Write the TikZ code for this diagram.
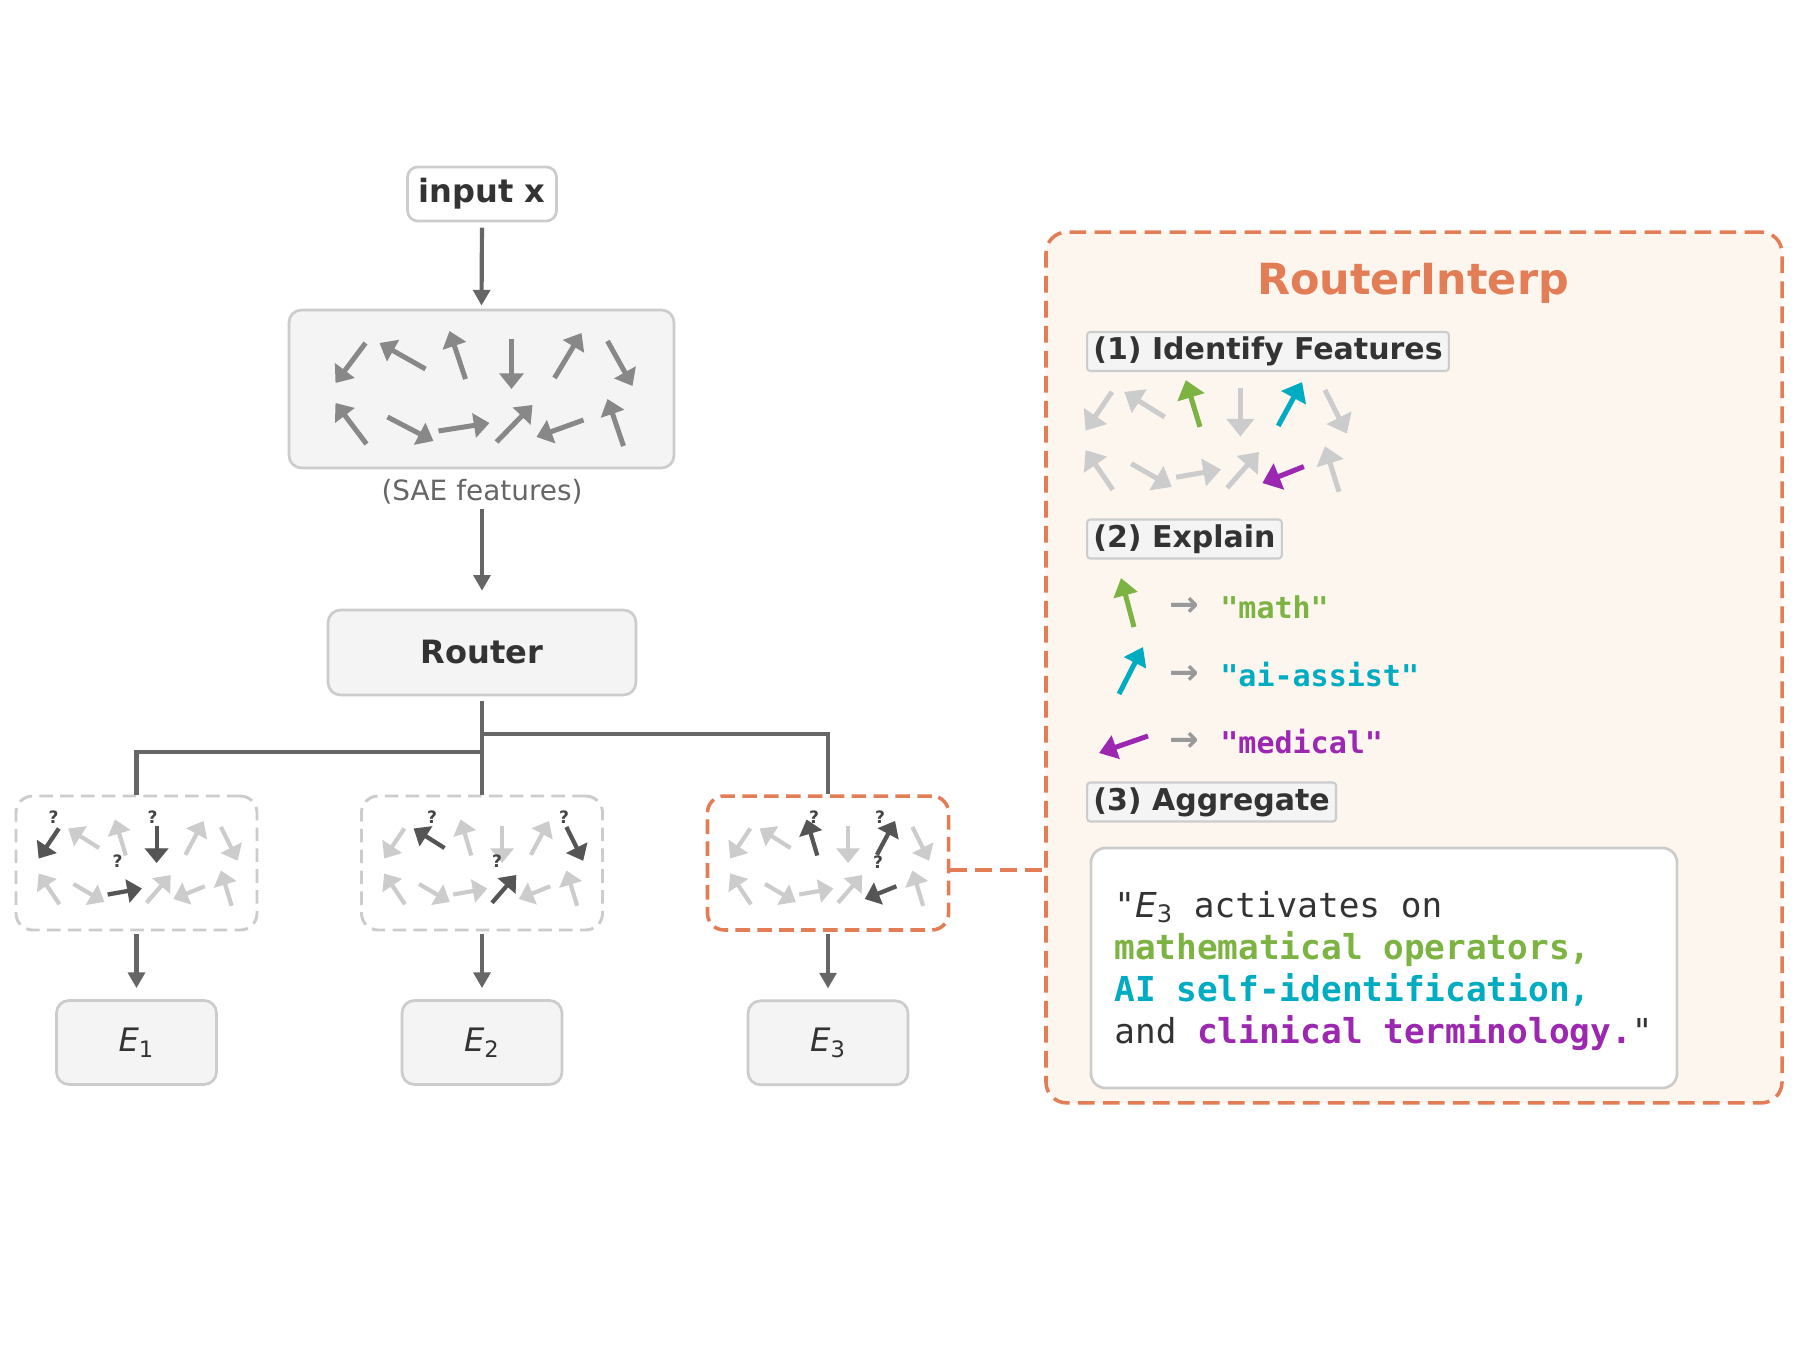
\documentclass[tikz,border=0pt]{standalone}
\usepackage{fontspec}
\setmainfont{DejaVu Sans}
\setmonofont{DejaVu Sans Mono}
\usepackage{tikz}
\usetikzlibrary{arrows.meta,positioning}
\usepackage{xcolor}

\definecolor{txtdark}{HTML}{333333}
\definecolor{linkgray}{HTML}{666666}
\definecolor{boxfill}{HTML}{F4F4F4}
\definecolor{boxline}{HTML}{CCCCCC}
\definecolor{featmid}{HTML}{888888}
\definecolor{featlight}{HTML}{CCCCCC}
\definecolor{featdark}{HTML}{555555}
\definecolor{explgray}{HTML}{999999}
\definecolor{interp}{HTML}{E27D56}
\definecolor{interpbg}{HTML}{FDF6EF}
\definecolor{mathgreen}{HTML}{7CB342}
\definecolor{aicyan}{HTML}{00ACC1}
\definecolor{medpurple}{HTML}{9C27B0}

\tikzset{
  graybox/.style={draw=boxline, fill=boxfill, line width=1.3pt, rounded corners=6pt, text=txtdark},
  inbox/.style={draw=boxline, fill=white, line width=1.3pt, rounded corners=5pt, text=txtdark,
    minimum width=71.5pt, minimum height=26pt, font=\bfseries\fontsize{15.4}{18}\selectfont},
  flow/.style={draw=linkgray, line width=2pt, -{Triangle[length=7.5pt,width=8pt]}},
  branch/.style={draw=linkgray, line width=2pt},
  expertbox/.style={draw=boxline, fill=white, line width=1.4pt, dash pattern=on 6.5pt off 3.5pt,
    rounded corners=8pt, minimum width=115.7pt, minimum height=64.3pt},
  expertlabel/.style={graybox, minimum width=76.8pt, minimum height=40.3pt, font=\fontsize{15.5}{18}\selectfont},
  saearrow/.style={draw=featmid, line width=2.4pt, -{Triangle[length=7.5pt,width=11.5pt]}},
  miniarrow/.style={line width=2pt, -{Triangle[length=7pt,width=11pt]}},
  panelarrow/.style={line width=2.4pt, -{Triangle[length=8.5pt,width=13pt]}},
  iconarrow/.style={line width=2.4pt, -{Triangle[length=8.5pt,width=11.5pt]}},
  qmark/.style={text=featdark!80!black, inner sep=0pt, font=\bfseries\fontsize{8.2}{9}\selectfont},
  stephead/.style={draw=boxline, fill=boxfill, line width=1pt, rounded corners=1.5pt, inner xsep=3pt,
    inner ysep=0pt, minimum height=18.7pt, anchor=west, text=txtdark, font=\bfseries\fontsize{14.4}{17}\selectfont},
  expl/.style={anchor=west, inner sep=0pt, font=\ttfamily\bfseries\fontsize{14.4}{17}\selectfont},
  explarrow/.style={text=explgray, inner sep=0pt, font=\bfseries\fontsize{17}{19}\selectfont},
  interpline/.style={draw=interp, line width=1.7pt, dash pattern=on 8pt off 4pt}
}

% one SAE feature layout, 12 arrows, tail -> head
\newcommand{\featpattern}[1]{%
  \foreach \k/\tx/\ty/\hx/\hy in {1/-116/-46/-146/-6, 2/-56/-20/-102/-46, 3/-16/-10/-32/-58,
      4/30/-50/30/0, 5/73/-11/100/-56, 6/126/-48/151/-3, 7/-115/55/-146/14, 8/-94/28/-48/52,
      9/-43/42/8/34, 10/15/53/51/16, 11/102/31/55/48, 12/142/57/126/10}{
    \coordinate (t\k) at (\tx,\ty);
    \coordinate (h\k) at (\hx,\hy);
    \draw[#1] (t\k) -- (h\k);
  }%
}

\begin{document}
\begin{tikzpicture}[x=0.48pt, y=-0.48pt]
\fill[white] (0,0) rectangle (1800,1350);
\useasboundingbox (0,0) rectangle (1800,1350);

%Input
\node[inbox] (input) at (482,194) {input x};

%SAE features
\node[graybox, minimum width=184.8pt, minimum height=75.8pt] (sae) at (481.5,389) {};
\begin{scope}[shift={(sae.center)}]
  \featpattern{saearrow}
\end{scope}
\node[text=linkgray, inner sep=0pt, font=\fontsize{13.4}{16}\selectfont] (saelab) at (482,492) {(SAE features)};

%Router
\node[graybox, font=\bfseries\fontsize{15.4}{18}\selectfont, minimum width=147.8pt, minimum height=40.8pt] (router) at (482,652.5) {Router};

%Expert 1
\node[expertbox] (sel1) at (136.5,863) {};
\begin{scope}[shift={(sel1.center)}]
  \begin{scope}[xscale=0.67, yscale=0.75]
    \featpattern{miniarrow, featlight}
    \draw[miniarrow, featdark] (t1) -- (h1);
    \draw[miniarrow, featdark] (t4) -- (h4);
    \draw[miniarrow, featdark] (t9) -- (h9);
  \end{scope}
  \node[qmark] at (-83,-46) {?};
  \node[qmark] at (16,-46) {?};
  \node[qmark] at (-19,-2) {?};
\end{scope}
\node[expertlabel, below=32.5pt of sel1] (E1) {\textit{E}\textsubscript{1}};

%Expert 2
\node[expertbox] (sel2) at (482,863) {};
\begin{scope}[shift={(sel2.center)}]
  \begin{scope}[xscale=0.67, yscale=0.75]
    \featpattern{miniarrow, featlight}
    \draw[miniarrow, featdark] (t2) -- (h2);
    \draw[miniarrow, featdark] (t6) -- (h6);
    \draw[miniarrow, featdark] (t10) -- (h10);
  \end{scope}
  \node[qmark] at (-50,-46) {?};
  \node[qmark] at (82,-46) {?};
  \node[qmark] at (15,-2) {?};
\end{scope}
\node[expertlabel, below=32.5pt of sel2] (E2) {\textit{E}\textsubscript{2}};

%Expert 3 (explained)
\node[expertbox, draw=interp, line width=1.7pt, dash pattern=on 7pt off 3.5pt] (sel3) at (828,863) {};
\begin{scope}[shift={(sel3.center)}]
  \begin{scope}[xscale=0.67, yscale=0.75]
    \featpattern{miniarrow, featlight}
    \draw[miniarrow, featdark] (t3) -- (h3);
    \draw[miniarrow, featdark] (t5) -- (h5);
    \draw[miniarrow, featdark] (t11) -- (h11);
  \end{scope}
  \node[qmark] at (-14,-46) {?};
  \node[qmark] at (52,-46) {?};
  \node[qmark] at (50,-1) {?};
\end{scope}
\node[expertlabel, below=32.5pt of sel3] (E3) {\textit{E}\textsubscript{3}};

%Connections
\draw[flow, shorten <=2.5pt, shorten >=1.5pt] (input.south) -- (sae.north);
\draw[flow, shorten <=2pt, shorten >=8.6pt] (saelab.south) -- (router.north);
\coordinate (forkL) at (482,752);
\coordinate (forkR) at (482,734);
\draw[branch, shorten <=2.4pt] (router.south) -- (sel2.north);
\draw[branch] (forkL) -| (sel1.north);
\draw[branch] (forkR) -| (sel3.north);
\draw[flow, shorten <=1pt, shorten >=5.3pt] (sel1.south) -- (E1.north);
\draw[flow, shorten <=1pt, shorten >=5.3pt] (sel2.south) -- (E2.north);
\draw[flow, shorten <=1pt, shorten >=5.3pt] (sel3.south) -- (E3.north);

%RouterInterp panel
\node[draw=interp, fill=interpbg, line width=1.7pt, dash pattern=on 8pt off 4pt, rounded corners=10pt,
  minimum width=353.3pt, minimum height=418pt] (panel) at (1414,667.5) {};
\coordinate (tap) at ([yshift=-3.4pt]sel3.east);
\draw[interpline] (tap) -- (tap -| panel.west);
\node[text=interp, font=\bfseries\fontsize{20.6}{24}\selectfont] (title) at (1413,283) {RouterInterp};

%Step 1
\node[stephead] (idfeat) at (1086,351.5) {(1) Identify Features};
\begin{scope}[shift={(1214,436.5)}, xscale=0.88, yscale=0.97]
  \featpattern{panelarrow, featlight}
  \draw[panelarrow, mathgreen] (t3) -- (h3);
  \draw[panelarrow, aicyan] (t5) -- (h5);
  \draw[panelarrow, medpurple] (t11) -- (h11);
\end{scope}

%Step 2
\node[stephead] (explain) at (1086,539) {(2) Explain};
\draw[iconarrow, mathgreen] (1134,627) -- (1121,578);
\draw[iconarrow, aicyan] (1119,694) -- (1143,647);
\draw[iconarrow, medpurple] (1148,736) -- (1099,753);
\node[explarrow] (amath) at (1184,607) {→};
\node[explarrow] (aai) at (1184,675) {→};
\node[explarrow] (amed) at (1184,742) {→};
\node[expl, text=mathgreen] (lmath) at (1220,607) {"math"};
\node[expl, text=aicyan] (lai) at (1220,675) {"ai-assist"};
\node[expl, text=medpurple] (lmed) at (1220,742) {"medical"};

%Step 3
\node[stephead] (aggregate) at (1086,802) {(3) Aggregate};
\node[draw=boxline, fill=white, line width=1.3pt, rounded corners=7pt,
  minimum width=281.3pt, minimum height=115.2pt] (quotebox) at (1384,968) {};
\node[anchor=west, inner sep=0pt, align=left, text=txtdark, font=\ttfamily\fontsize{16.5}{20.2}\selectfont] (qtext) at (1114,971)
  {"{\rmfamily\textit{E}\textsubscript{3}} activates on\\
   {\bfseries\color{mathgreen}mathematical operators,}\\
   {\bfseries\color{aicyan}AI self-identification,}\\
   and {\bfseries\color{medpurple}clinical terminology.}"};
\end{tikzpicture}
\end{document}
